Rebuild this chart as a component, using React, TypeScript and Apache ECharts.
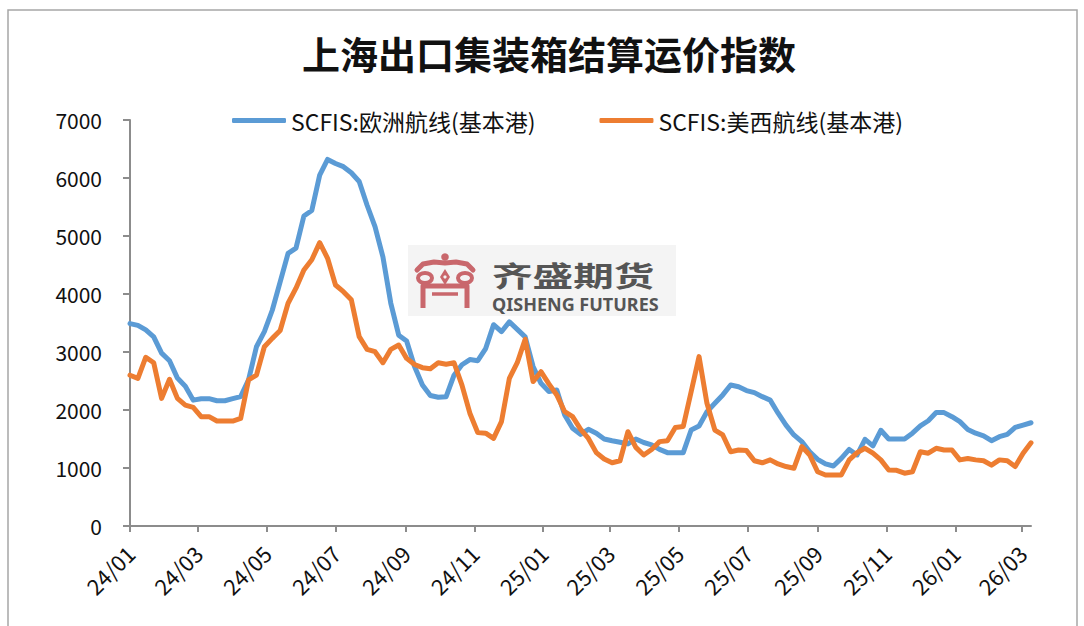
import React, { useEffect, useRef } from 'react';
import * as echarts from 'echarts';

const START_UTC = Date.UTC(2024, 0, 1);
const DAY_MS = 86400000;
const WEEK_STEP_DAYS = 7;

const seriesNames = ['SCFIS:欧洲航线(基本港)', 'SCFIS:美西航线(基本港)'];
const seriesColors = ['#5B9BD5', '#ED7D31'];

const europeValues = [
  3490, 3460, 3380, 3260, 2980, 2850, 2550, 2410, 2170, 2195,
  2195, 2160, 2160, 2195, 2230, 2520, 3090, 3350, 3720, 4210,
  4700, 4790, 5345, 5440, 6050, 6320, 6250, 6195, 6090, 5940,
  5530, 5160, 4640, 3840, 3290, 3190, 2750, 2430, 2250, 2220,
  2230, 2600, 2780, 2870, 2850, 3060, 3470, 3350, 3520, 3390,
  3260, 2750, 2460, 2320, 2345, 1915, 1685, 1580, 1667, 1600,
  1500, 1470, 1445, 1415, 1500, 1440, 1400, 1320, 1265, 1265,
  1265, 1655, 1725, 1970, 2115, 2260, 2430, 2400, 2335, 2300,
  2230, 2170, 1945, 1740, 1570, 1455, 1280, 1150, 1070, 1035,
  1165, 1320, 1225, 1495, 1380, 1650, 1500, 1500, 1500, 1600,
  1725, 1815, 1955, 1955, 1885, 1800, 1665, 1600, 1555, 1470,
  1540, 1580, 1700, 1740, 1780,
];

const usWestValues = [
  2600, 2545, 2910, 2815, 2200, 2530, 2200, 2085, 2045, 1885,
  1885, 1810, 1810, 1810, 1855, 2520, 2600, 3090, 3235, 3370,
  3840, 4100, 4415, 4590, 4885, 4615, 4155, 4040, 3900, 3265,
  3045, 3005, 2815, 3045, 3120, 2890, 2785, 2730, 2710, 2815,
  2790, 2815, 2430, 1945, 1610, 1600, 1510, 1800, 2545, 2815,
  3220, 2490, 2660, 2450, 2260, 1970, 1885, 1670, 1510, 1265,
  1155, 1090, 1125, 1625, 1355, 1225, 1320, 1455, 1470, 1700,
  1715, 2315, 2920, 2115, 1655, 1570, 1280, 1310, 1300, 1125,
  1090, 1140, 1070, 1025, 995, 1370, 1225, 935, 880, 880,
  880, 1140, 1265, 1340, 1255, 1140, 965, 960, 910, 935,
  1280, 1255, 1340, 1310, 1310, 1140, 1165, 1140, 1125, 1050,
  1140, 1125, 1025, 1255, 1435,
];

const Y_MIN = 0;
const Y_MAX = 7000;
const Y_INTERVAL = 1000;

const dayString = (offsetDays: number) =>
  new Date(START_UTC + offsetDays * DAY_MS).toISOString().slice(0, 10);

const weekDates = europeValues.map((_, i) => dayString(i * WEEK_STEP_DAYS));
const allDays: string[] = [];
for (let d = 0; d <= (europeValues.length - 1) * WEEK_STEP_DAYS; d++) allDays.push(dayString(d));

const isLabelDay = (_idx: number, value: string) =>
  value.slice(8, 10) === '01' && parseInt(value.slice(5, 7), 10) % 2 === 1;

const FONT = '"Noto Sans CJK SC", "Noto Sans", sans-serif';

export default function App() {
  const ref = useRef<HTMLDivElement>(null);
  useEffect(() => {
    if (!ref.current) return;
    const chart = echarts.init(ref.current, undefined, { renderer: 'svg' });
    const emblemColor = '#c9676c';
    chart.setOption({
      animation: false,
      backgroundColor: '#ffffff',
      textStyle: { fontFamily: FONT },
      grid: { left: 130, right: 53, top: 120, bottom: 100, containLabel: false, outerBoundsMode: 'none' },
      legend: {
        data: seriesNames,
        left: 232,
        top: 109,
        padding: 0,
        itemWidth: 54,
        itemHeight: 5,
        itemGap: 64,
        icon: 'roundRect',
        textStyle: { fontSize: 23, color: '#111', fontFamily: FONT },
      },
      xAxis: {
        type: 'category',
        data: allDays,
        boundaryGap: false,
        axisLine: { show: true, lineStyle: { color: '#8c8c8c', width: 2 } },
        axisTick: { show: true, interval: isLabelDay, length: 6, lineStyle: { color: '#8c8c8c', width: 2 } },
        axisLabel: {
          interval: isLabelDay,
          rotate: 45,
          margin: 23,
          fontSize: 22,
          color: '#111',
          fontFamily: FONT,
          formatter: (v: string) => v.slice(2, 4) + '/' + v.slice(5, 7),
        },
        splitLine: { show: false },
      },
      yAxis: {
        type: 'value',
        min: Y_MIN,
        max: Y_MAX,
        interval: Y_INTERVAL,
        axisLine: { show: true, lineStyle: { color: '#8c8c8c', width: 2 } },
        axisTick: { show: true, length: 7, lineStyle: { color: '#8c8c8c', width: 2 } },
        axisLabel: { fontSize: 21, color: '#111', margin: 28, fontFamily: FONT, formatter: (v: number) => String(v) },
        splitLine: { show: false },
      },
      series: [
        {
          name: seriesNames[0],
          type: 'line',
          data: weekDates.map((d, i) => [d, europeValues[i]]),
          symbol: 'none',
          z: 3,
          lineStyle: { color: seriesColors[0], width: 5, join: 'round', cap: 'round' },
          itemStyle: { color: seriesColors[0] },
        },
        {
          name: seriesNames[1],
          type: 'line',
          data: weekDates.map((d, i) => [d, usWestValues[i]]),
          symbol: 'none',
          z: 4,
          lineStyle: { color: seriesColors[1], width: 5, join: 'round', cap: 'round' },
          itemStyle: { color: seriesColors[1] },
        },
      ],
      graphic: [
        {
          type: 'polyline',
          z: 0,
          shape: { points: [[8, 626], [8, 10], [1077, 10], [1077, 626]] },
          style: { stroke: '#a6a6a6', lineWidth: 1.5, fill: 'none' },
          silent: true,
        },
        {
          type: 'text',
          x: 549,
          y: 52,
          style: {
            text: '上海出口集装箱结算运价指数',
            font: 'bold 38px ' + FONT,
            fill: '#111',
            textAlign: 'center',
            textVerticalAlign: 'middle',
          },
        },
        {
          type: 'group',
          x: 408,
          y: 245,
          z: 1,
          silent: true,
          children: [
            { type: 'rect', shape: { x: 0, y: 0, width: 268, height: 71 }, style: { fill: '#f4f4f4' } },
            { type: 'circle', shape: { cx: 37, cy: 12, r: 3.8 }, style: { fill: emblemColor } },
            {
              type: 'polyline',
              shape: { points: [[9, 25], [15, 19], [26, 17], [37, 18], [48, 17], [59, 19], [65, 25]] },
              style: { stroke: emblemColor, lineWidth: 5, fill: 'none', lineJoin: 'round', lineCap: 'round' },
            },
            { type: 'ellipse', shape: { cx: 17, cy: 33, rx: 7, ry: 5 }, style: { stroke: emblemColor, lineWidth: 4, fill: 'none' } },
            { type: 'ellipse', shape: { cx: 57, cy: 33, rx: 7, ry: 5 }, style: { stroke: emblemColor, lineWidth: 4, fill: 'none' } },
            { type: 'polygon', shape: { points: [[37, 24], [42, 32], [37, 40], [32, 32]] }, style: { fill: emblemColor } },
            { type: 'circle', shape: { cx: 37, cy: 32, r: 1.6 }, style: { fill: '#f4f4f4' } },
            {
              type: 'polyline',
              shape: { points: [[15, 63], [15, 41], [59, 41], [59, 63]] },
              style: { stroke: emblemColor, lineWidth: 5, fill: 'none', lineJoin: 'round' },
            },
            { type: 'line', shape: { x1: 24, y1: 49, x2: 50, y2: 49 }, style: { stroke: emblemColor, lineWidth: 3.5 } },
            {
              type: 'text',
              x: 84,
              y: 16,
              scaleX: 1.45,
              style: { text: '齐盛期货', font: 'bold 28px ' + FONT, fill: '#555555', textVerticalAlign: 'top' },
            },
            {
              type: 'text',
              x: 84,
              y: 50,
              style: { text: 'QISHENG FUTURES', font: 'bold 18px "Noto Sans", sans-serif', fill: '#555555', textVerticalAlign: 'top' },
            },
          ],
        },
      ],
    });
    return () => chart.dispose();
  }, []);
  return (
    <div
      ref={ref}
      style={{ position: 'fixed', left: 0, top: 0, width: 1084, height: 626, background: '#fff' }}
    />
  );
}
